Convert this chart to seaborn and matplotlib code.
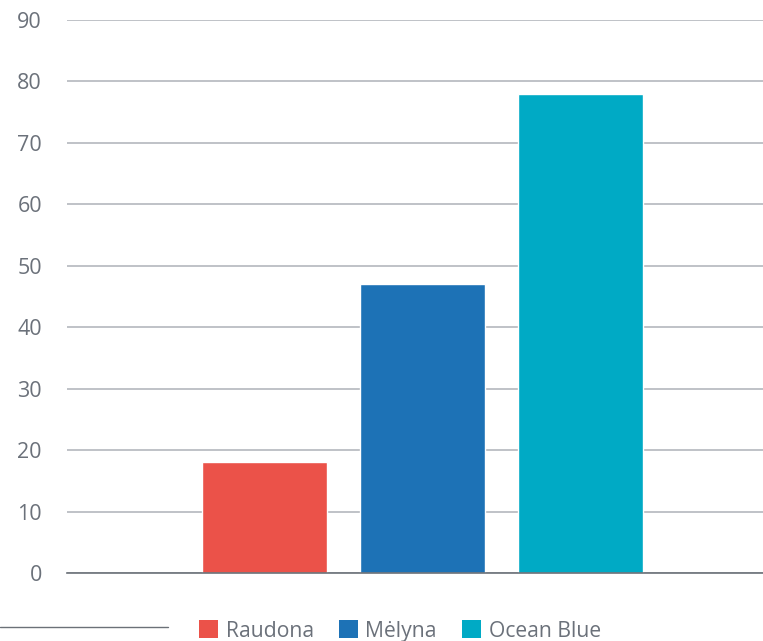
import matplotlib
matplotlib.use("Agg")
import matplotlib.pyplot as plt
from matplotlib.lines import Line2D
import seaborn as sns
import pandas as pd

categories = ["Raudona", "Mėlyna", "Ocean Blue"]
values = [18, 47, 78]
colors = ["#EB5249", "#1D72B6", "#00AAC5"]
yticks = [0, 10, 20, 30, 40, 50, 60, 70, 80, 90]

sns.set_theme(style="white")
plt.rcParams['font.family'] = ['Open Sans', 'DejaVu Sans']

text_color = "#6B717A"
df = pd.DataFrame({"cat": categories, "val": values})

fig = plt.figure(figsize=(7.63, 6.41), dpi=100)
ax = fig.add_axes([67/763, 1-573/641, 1-67/763, (573-20)/641])

sns.barplot(data=df, x="cat", y="val", hue="cat", palette=colors,
            width=125/158, ax=ax, legend=False, saturation=1, zorder=3)

ax.set_xlim(-1.25, 3.155)
ax.set_ylim(0, 90)
ax.set_yticks(yticks)
ax.set_yticklabels([str(t) for t in yticks])
ax.set_xticks([])
ax.set_xlabel("")
ax.set_ylabel("")
ax.tick_params(axis="y", length=0, pad=18, labelsize=15.5, labelcolor=text_color)
for t in ax.get_yticklabels():
    t.set_horizontalalignment("right")
ax.yaxis.grid(True, color="#B4B7BD", linewidth=1.2, zorder=0)
ax.set_axisbelow(True)
for s in ["top", "right", "left"]:
    ax.spines[s].set_visible(False)
ax.spines["bottom"].set_color("#6B7178")
ax.spines["bottom"].set_linewidth(1.2)
ax.spines["bottom"].set_zorder(4)

handles = [plt.Rectangle((0, 0), 1, 1, facecolor=c, edgecolor="none") for c in colors]
leg = fig.legend(handles, categories, loc="center", bbox_to_anchor=(400/763, 1-631/641),
                 ncol=3, frameon=False, handlelength=0.9, handleheight=0.9,
                 handletextpad=0.35, columnspacing=1.2, fontsize=15.2)
for t in leg.get_texts():
    t.set_color(text_color)

fig.add_artist(Line2D([0, 168/763], [1-627/641, 1-627/641], transform=fig.transFigure,
                      color="#6B7178", linewidth=1))

fig.savefig("out.png", dpi=100)
